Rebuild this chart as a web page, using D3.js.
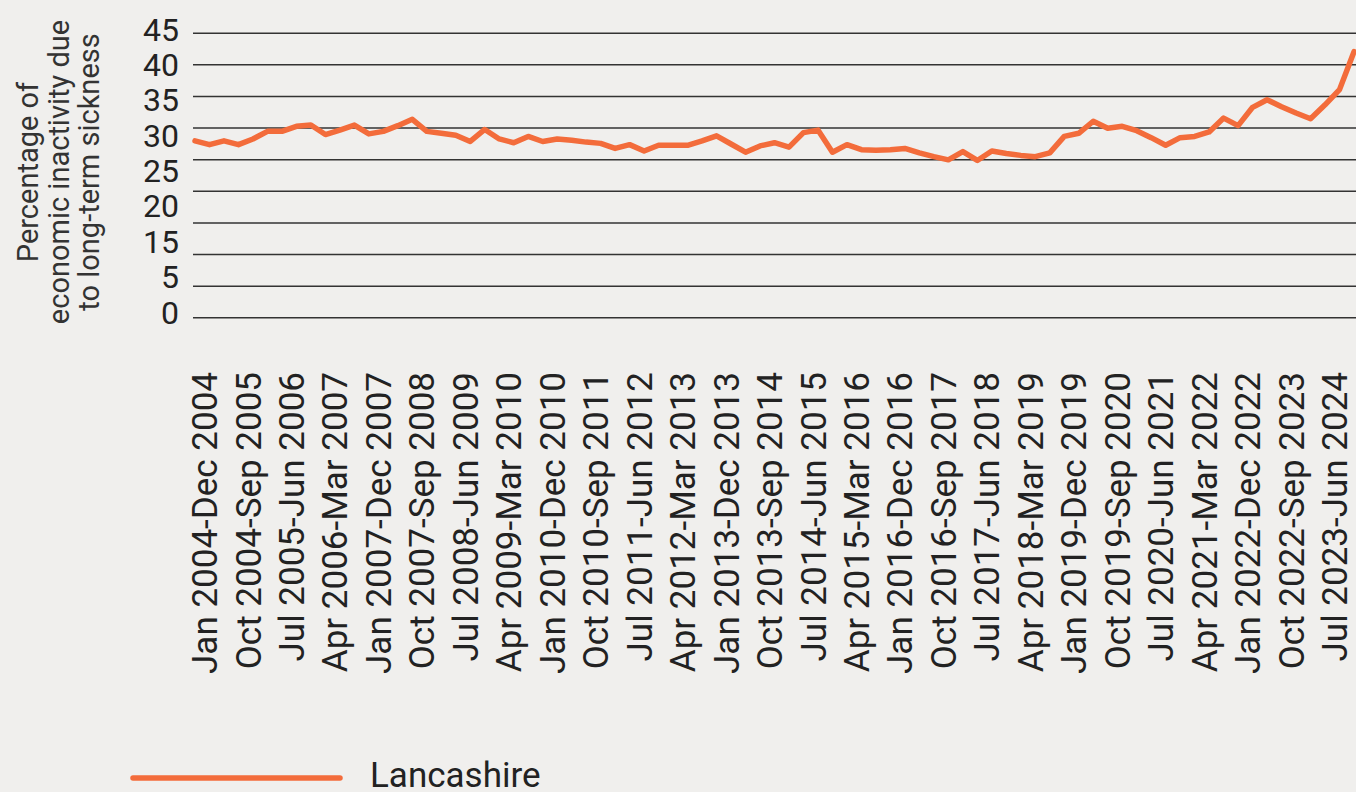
<!DOCTYPE html>
<html>
<head>
<meta charset="utf-8">
<script src="https://cdn.jsdelivr.net/npm/d3@7"></script>
<style>
    html, body { margin: 0; padding: 0; background: #f0efed; }
    #svg-container { width: 1356px; height: 792px; }
    text { font-family: Roboto, "Noto Sans", sans-serif; fill: #222; }
</style>
</head>
<body>
<div id="svg-container"></div>
<script>
// rolling 12-month periods, one per quarter
const periods = [
    "Jan 2004-Dec 2004", "Apr 2004-Mar 2005", "Jul 2004-Jun 2005", "Oct 2004-Sep 2005",
    "Jan 2005-Dec 2005", "Apr 2005-Mar 2006", "Jul 2005-Jun 2006", "Oct 2005-Sep 2006",
    "Jan 2006-Dec 2006", "Apr 2006-Mar 2007", "Jul 2006-Jun 2007", "Oct 2006-Sep 2007",
    "Jan 2007-Dec 2007", "Apr 2007-Mar 2008", "Jul 2007-Jun 2008", "Oct 2007-Sep 2008",
    "Jan 2008-Dec 2008", "Apr 2008-Mar 2009", "Jul 2008-Jun 2009", "Oct 2008-Sep 2009",
    "Jan 2009-Dec 2009", "Apr 2009-Mar 2010", "Jul 2009-Jun 2010", "Oct 2009-Sep 2010",
    "Jan 2010-Dec 2010", "Apr 2010-Mar 2011", "Jul 2010-Jun 2011", "Oct 2010-Sep 2011",
    "Jan 2011-Dec 2011", "Apr 2011-Mar 2012", "Jul 2011-Jun 2012", "Oct 2011-Sep 2012",
    "Jan 2012-Dec 2012", "Apr 2012-Mar 2013", "Jul 2012-Jun 2013", "Oct 2012-Sep 2013",
    "Jan 2013-Dec 2013", "Apr 2013-Mar 2014", "Jul 2013-Jun 2014", "Oct 2013-Sep 2014",
    "Jan 2014-Dec 2014", "Apr 2014-Mar 2015", "Jul 2014-Jun 2015", "Oct 2014-Sep 2015",
    "Jan 2015-Dec 2015", "Apr 2015-Mar 2016", "Jul 2015-Jun 2016", "Oct 2015-Sep 2016",
    "Jan 2016-Dec 2016", "Apr 2016-Mar 2017", "Jul 2016-Jun 2017", "Oct 2016-Sep 2017",
    "Jan 2017-Dec 2017", "Apr 2017-Mar 2018", "Jul 2017-Jun 2018", "Oct 2017-Sep 2018",
    "Jan 2018-Dec 2018", "Apr 2018-Mar 2019", "Jul 2018-Jun 2019", "Oct 2018-Sep 2019",
    "Jan 2019-Dec 2019", "Apr 2019-Mar 2020", "Jul 2019-Jun 2020", "Oct 2019-Sep 2020",
    "Jan 2020-Dec 2020", "Apr 2020-Mar 2021", "Jul 2020-Jun 2021", "Oct 2020-Sep 2021",
    "Jan 2021-Dec 2021", "Apr 2021-Mar 2022", "Jul 2021-Jun 2022", "Oct 2021-Sep 2022",
    "Jan 2022-Dec 2022", "Apr 2022-Mar 2023", "Jul 2022-Jun 2023", "Oct 2022-Sep 2023",
    "Jan 2023-Dec 2023", "Apr 2023-Mar 2024", "Jul 2023-Jun 2024", "Oct 2023-Sep 2024",
    "Jan 2024-Dec 2024"
]

// Lancashire, % of economically inactive due to long-term sickness
const lancashire = [
    27.9, 27.3, 27.9, 27.3, 28.2, 29.4, 29.4, 30.2, 30.4, 28.9,
    29.6, 30.4, 29.0, 29.4, 30.3, 31.3, 29.4, 29.1, 28.8, 27.8,
    29.7, 28.2, 27.6, 28.6, 27.8, 28.2, 28.0, 27.7, 27.5, 26.7,
    27.3, 26.3, 27.2, 27.2, 27.2, 27.9, 28.7, 27.4, 26.1, 27.1,
    27.6, 26.9, 29.2, 29.6, 26.1, 27.3, 26.5, 26.4, 26.5, 26.7,
    26.0, 25.4, 24.9, 26.2, 24.8, 26.3, 25.9, 25.6, 25.4, 26.0,
    28.6, 29.1, 31.0, 29.9, 30.2, 29.5, 28.4, 27.2, 28.4, 28.6,
    29.3, 31.5, 30.3, 33.2, 34.4, 33.3, 32.3, 31.4, 33.6, 36.0,
    42.0
]

// labels shown on the x axis (every third period)
const xTickLabels = [
    "Jan 2004-Dec 2004", "Oct 2004-Sep 2005", "Jul 2005-Jun 2006", "Apr 2006-Mar 2007",
    "Jan 2007-Dec 2007", "Oct 2007-Sep 2008", "Jul 2008-Jun 2009", "Apr 2009-Mar 2010",
    "Jan 2010-Dec 2010", "Oct 2010-Sep 2011", "Jul 2011-Jun 2012", "Apr 2012-Mar 2013",
    "Jan 2013-Dec 2013", "Oct 2013-Sep 2014", "Jul 2014-Jun 2015", "Apr 2015-Mar 2016",
    "Jan 2016-Dec 2016", "Oct 2016-Sep 2017", "Jul 2017-Jun 2018", "Apr 2018-Mar 2019",
    "Jan 2019-Dec 2019", "Oct 2019-Sep 2020", "Jul 2020-Jun 2021", "Apr 2021-Mar 2022",
    "Jan 2022-Dec 2022", "Oct 2022-Sep 2023", "Jul 2023-Jun 2024"
]

// y labels as printed in the original (no 10)
const yTickLabels = ["45", "40", "35", "30", "25", "20", "15", "5", "0"]
const gridValues = [0, 5, 10, 15, 20, 25, 30, 35, 40, 45]

const seriesName = "Lancashire"
const lineColor = "#f36c3b"

const svg = d3.select('#svg-container')
    .append('svg').attr('width', 1356).attr('height', 792)

const margin = { top: 32.7, left: 193, right: 0, plotBottom: 317.3 }

// scales
const yScale = d3.scaleLinear()
    .domain([0, 45])
    .range([margin.plotBottom, margin.top])
const xScale = d3.scalePoint()
    .domain(periods)
    .range([195, 1354])
const yLabelScale = d3.scalePoint()
    .domain(yTickLabels)
    .range([29, 312])

// gridlines
const gridAxis = d3.axisLeft(yScale)
    .tickValues(gridValues)
    .tickSize(-(1356 - margin.left))
    .tickFormat('')
const gridG = svg.append('g')
    .attr('transform', `translate(${margin.left}, 0)`)
    .call(gridAxis)
gridG.select('.domain').remove()
gridG.selectAll('.tick line')
    .attr('stroke', '#333')
    .attr('stroke-width', 1.5)

// y labels
svg.append('g').selectAll('text')
    .data(yTickLabels)
    .enter().append('text')
    .attr('x', 179)
    .attr('y', d => yLabelScale(d))
    .attr('dy', '0.36em')
    .attr('text-anchor', 'end')
    .style('font-size', '32px')
    .text(d => d)

// y axis title
const yTitle = svg.append('text')
    .attr('transform', 'translate(0, 172) rotate(-90)')
    .attr('text-anchor', 'middle')
    .style('font-size', '29px')
    .style('fill', '#333')
const titleLines = ["Percentage of", "economic inactivity due", "to long-term sickness"]
yTitle.selectAll('tspan')
    .data(titleLines)
    .enter().append('tspan')
    .attr('x', 0)
    .attr('y', (d, i) => 38 + i * 30.6)
    .text(d => d)

// x labels, rotated
svg.append('g').selectAll('text')
    .data(xTickLabels)
    .enter().append('text')
    .attr('transform', d => `translate(${xScale(d)}, 372) rotate(-90)`)
    .attr('text-anchor', 'end')
    .attr('dy', '0.63em')
    .style('font-size', '35px')
    .text(d => d)

// the line
const line = d3.line()
    .x((d, i) => xScale(periods[i]))
    .y(d => yScale(d))
svg.append('path')
    .datum(lancashire)
    .attr('d', line)
    .attr('fill', 'none')
    .attr('stroke', lineColor)
    .attr('stroke-width', 5.5)
    .attr('stroke-linejoin', 'round')
    .attr('stroke-linecap', 'round')

// legend
const legend = svg.append('g')
legend.append('line')
    .attr('x1', 133).attr('x2', 340)
    .attr('y1', 778).attr('y2', 778)
    .attr('stroke', lineColor)
    .attr('stroke-width', 5.5)
    .attr('stroke-linecap', 'round')
legend.append('text')
    .attr('x', 370)
    .attr('y', 787)
    .style('font-size', '35px')
    .text(seriesName)
</script>
</body>
</html>
